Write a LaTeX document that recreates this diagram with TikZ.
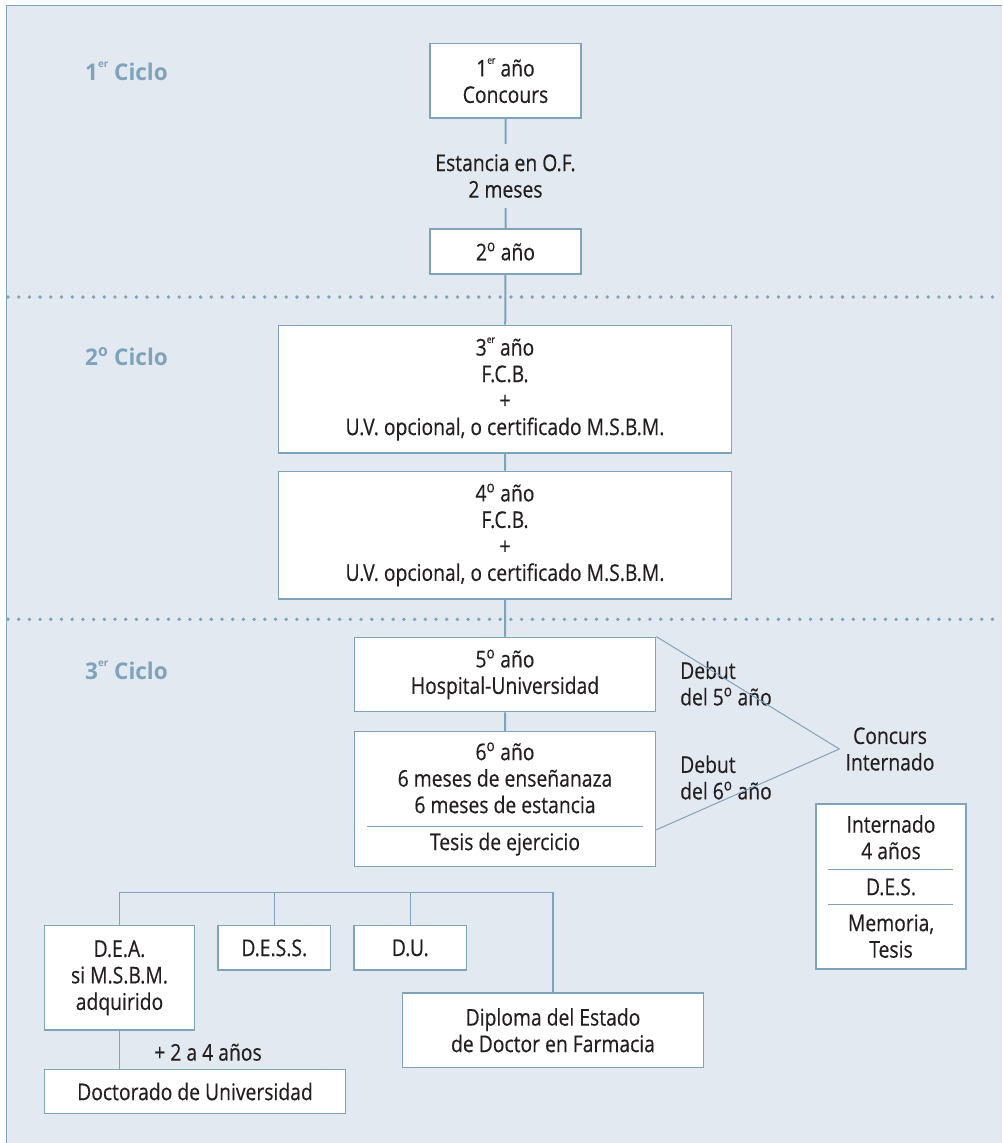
\documentclass[tikz,border=0pt]{standalone}
\usepackage{fontspec}
\setmainfont{Open Sans}[FakeStretch=0.84, FakeBold=0.4]
\newfontfamily\ciclofont{Open Sans}[FakeStretch=0.98]
\usepackage{tikz}
\usetikzlibrary{calc}
\definecolor{bgblue}{HTML}{E3E9F0}
\definecolor{steel}{HTML}{7FA3BB}
\definecolor{ink}{HTML}{231F20}
\newcommand{\ersup}{\raisebox{0.55em}{\fontsize{10}{10}\selectfont er}}
\newcommand{\ordo}{\textsuperscript{o}}
\begin{document}
\begin{tikzpicture}[x=1pt, y=-1pt,
  every node/.style={font=\fontsize{23}{26.5}\selectfont, text=ink, align=center, inner sep=0pt},
  box/.style={draw=steel, line width=1.3pt, fill=white},
  ciclo/.style={anchor=west, text=steel, font=\fontsize{23}{26}\ciclofont\bfseries},
  link/.style={draw=steel, line width=2pt},
  thinlink/.style={draw=steel, line width=1.3pt},
  diag/.style={draw=steel, line width=1pt},
  sep/.style={draw=steel, line width=1.2pt},
  dotline/.style={draw=steel, line width=3.8pt, line cap=round, dash pattern=on 0pt off 10.7pt}]
  \useasboundingbox (0,0) rectangle (1002,1143);
  \fill[bgblue] (6.3,5.7) rectangle (1002,1143);
  \draw[steel, line width=1.3pt] (6.3,1143) -- (6.3,5.7) -- (1002,5.7);
  \draw[dotline] (8,297) -- (1002,297);
  \draw[dotline] (8,619.3) -- (1002,619.3);
  % ciclos
  \node[ciclo] (c1) at (85,71.5) {1\ersup\ Ciclo};
  \node[ciclo] (c2) at (85,357) {2\ordo\ Ciclo};
  \node[ciclo] (c3) at (85,670) {3\ersup\ Ciclo};
  % main column
  \node[box, minimum width=151pt, minimum height=74.7pt] (y1) at (505.5,80.7) {1\ersup\ año\\Concours};
  \node[minimum height=64pt] (est) at (505.5,176) {Estancia en O.F.\\2 meses};
  \node[box, minimum width=151pt, minimum height=45pt] (y2) at (505.5,251.5) {2\ordo\ año};
  \node[box, minimum width=453pt, minimum height=127.7pt] (y3) at (505,389) {3\ersup\ año\\F.C.B.\\+\\U.V. opcional, o certificado M.S.B.M.};
  \node[box, minimum width=453pt, minimum height=127.7pt] (y4) at (505,535) {4\ordo\ año\\F.C.B.\\+\\U.V. opcional, o certificado M.S.B.M.};
  \node[box, minimum width=301.5pt, minimum height=74.4pt] (y5) at (505,674.5) {5\ordo\ año\\Hospital-Universidad};
  \node[box, minimum width=301.5pt, minimum height=134.6pt] (y6) at (505,799) {6\ordo\ año\\6 meses de enseñanaza\\6 meses de estancia\\[10.5pt]Tesis de ejercicio};
  \draw[sep] ($(y6.west)+(13.7,27.5)$) -- ($(y6.east)+(-13.8,27.5)$);
  % internado
  \node[inner xsep=6pt] (conc) at (890,749) {Concurs\\Internado};
  \node[anchor=west, align=left] (deb5) at (680,683.5) {Debut\\del 5\ordo\ año};
  \node[anchor=west, align=left] (deb6) at (680,777.5) {Debut\\del 6\ordo\ año};
  \coordinate (d6) at (655.8,830);
  \node[box, minimum width=150pt, minimum height=165pt] (int) at (891,886.5) {Internado\\4 años\\[9.5pt]D.E.S.\\[9.5pt]Memoria,\\Tesis};
  \draw[sep] ($(int.west)+(13,-17.2)$) -- ($(int.east)+(-14,-17.2)$);
  \draw[sep] ($(int.west)+(13,18.2)$) -- ($(int.east)+(-14,18.2)$);
  % diplomas
  \node[box, minimum width=150.4pt, minimum height=104.3pt] (dea) at (119.5,977.9) {D.E.A.\\si M.S.B.M.\\adquirido};
  \node[box, minimum width=112.7pt, minimum height=44.3pt] (dess) at (274.3,947.9) {D.E.S.S.};
  \node[box, minimum width=112.7pt, minimum height=44.3pt] (du) at (410.3,947.9) {D.U.};
  \node[box, minimum width=300.6pt, minimum height=74.3pt] (dip) at (553,1030.2) {Diploma del Estado\\de Doctor en Farmacia};
  \node[box, minimum width=301.4pt, minimum height=43.6pt] (doc) at (195,1091.5) {Doctorado de Universidad};
  \node (anos) at (208,1052.3) {+ 2 a 4 años};
  \coordinate (bar) at (0,892.3);
  % links
  \draw[link] (y1) -- (est) -- (y2) -- (y3) -- (y4) -- (y5) -- (y6);
  \draw[diag] (y5.north east) -- (conc.west) -- (d6);
  \draw[thinlink] (dea.north) |- (bar -| dip.north) -- (dip.north);
  \draw[thinlink] (dess.north) -- (dess.north |- bar);
  \draw[thinlink] (du.north) -- (du.north |- bar);
  \draw[thinlink] (dea.south) -- (dea.south |- doc.north);
\end{tikzpicture}
\end{document}
